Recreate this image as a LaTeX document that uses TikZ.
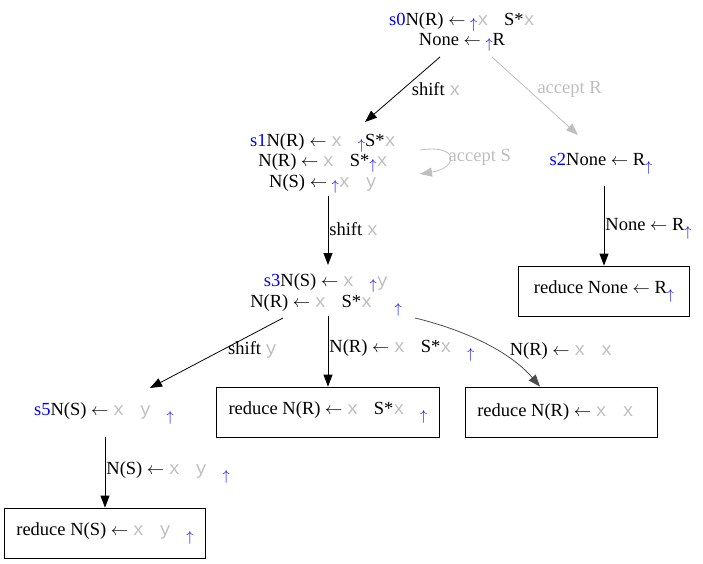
\documentclass[tikz,border=0pt]{standalone}
\usepackage{fontspec}
\setmainfont{Liberation Serif}
\setmonofont{Liberation Mono}
\usepackage{tikz}
\usetikzlibrary{arrows.meta}
\usepackage{xcolor}
\definecolor{tokgray}{RGB}{190,190,190}
\definecolor{edgegray}{RGB}{77,77,77}
\newcommand\tok[1]{\textcolor{tokgray}{\ttfamily #1}}
\newcommand\sid[1]{\textcolor{blue}{#1}}
\newcommand\la{$\leftarrow$}
\newcommand\cur[1][-3pt]{\textcolor{blue}{\raisebox{#1}{\fontsize{15}{15}\selectfont$\uparrow$}}}

\begin{document}
\begin{tikzpicture}[x=1pt,y=-1pt,
    font=\fontsize{18.5}{20.5}\selectfont,
    state/.style={align=center,inner sep=0pt},
    reducebox/.style={draw,line width=0.8pt,minimum height=50pt,inner sep=0pt},
    edge/.style={line width=0.8pt,-{Triangle[length=12pt,width=9pt]}},
    lbl/.style={inner sep=1pt}]
    \useasboundingbox (0,0) rectangle (703,564);
    % Estados
    \node[state] (s0) at (462,32) {\sid{s0}N(R) \la{} \cur\tok{x\ } S*\tok{x}\\None \la{} \cur R};
    \node[state] (s1) at (323,163) {\sid{s1}N(R) \la{} \tok{x\ } \cur S*\tok{x}\\N(R) \la{} \tok{x\ } S*\cur\tok{x}\\N(S) \la{} \cur\tok{x\ } \tok{y}};
    \node[state] (s2) at (601,164) {\sid{s2}None \la{} R\cur[-6pt]};
    \node[state] (s3) at (326,295) {\sid{s3}N(S) \la{} \tok{x\ } \cur\tok{y}\\N(R) \la{} \tok{x\ } S*\tok{x\ \ }\cur[-6pt]};
    \node[state] (s5) at (104,413) {\sid{s5}N(S) \la{} \tok{x\ } \tok{y\ } \cur[-6pt]};
    % Reduções
    \node[reducebox,minimum width=171pt] (rNone) at (604,291) {reduce None \la{} R\cur[-6pt]};
    \node[reducebox,minimum width=223pt] (rNRa) at (328,412) {reduce N(R) \la{} \tok{x\ } S*\tok{x\ } \cur[-6pt]};
    \node[reducebox,minimum width=192pt] (rNRb) at (561,412) {reduce N(R) \la{} \tok{x\ } \tok{x\ }};
    \node[reducebox,minimum width=201pt] (rNS) at (105,533) {reduce N(S) \la{} \tok{x\ } \tok{y\ } \cur[-6pt]};
    % Transições
    \draw[edge] ([shift={(-22,25)}]s0.center) -- ([shift={(42,-41)}]s1.center)
        node[lbl,pos=0.5,right=8pt] {shift \tok{x}};
    \draw[edge,color=tokgray] ([shift={(30,25)}]s0.center) -- ([shift={(-23,-29)}]s2.center)
        node[lbl,pos=0.42,right=8pt] {accept R};
    \draw[edge,color=tokgray] ([shift={(97,-13)}]s1.center) .. controls +(40,-6) and +(38,-6) .. ([shift={(97,11)}]s1.center)
        node[lbl,pos=0.5,right=-2pt] {accept S};
    \draw[edge] ([shift={(5,33)}]s1.center) -- ([shift={(2,-30)}]s3.center)
        node[lbl,pos=0.48,right] {shift \tok{x}};
    \draw[edge] ([shift={(3,22)}]s2.center) -- (rNone.north)
        node[lbl,pos=0.54,right] {None \la{} R\cur[-6pt]};
    \draw[edge] ([shift={(-43,23)}]s3.center) -- ([shift={(46,-25)}]s5.center)
        node[lbl,pos=0.46,right=5pt] {shift \tok{y}};
    \draw[edge] ([shift={(2,21)}]s3.center) -- (rNRa.north)
        node[lbl,pos=0.49,right] {N(R) \la{} \tok{x\ } S*\tok{x\ } \cur[-6pt]};
    \draw[edge,color=edgegray] ([shift={(89,23)}]s3.center) .. controls +(50,12) and +(-30,-35) .. ([xshift=-21pt]rNRb.north)
        node[lbl,pos=0.6,right=11pt,black] {N(R) \la{} \tok{x\ } \tok{x}};
    \draw[edge] ([shift={(1,24)}]s5.center) -- (rNS.north)
        node[lbl,pos=0.5,right] {N(S) \la{} \tok{x\ } \tok{y\ } \cur[-6pt]};
\end{tikzpicture}
\end{document}
